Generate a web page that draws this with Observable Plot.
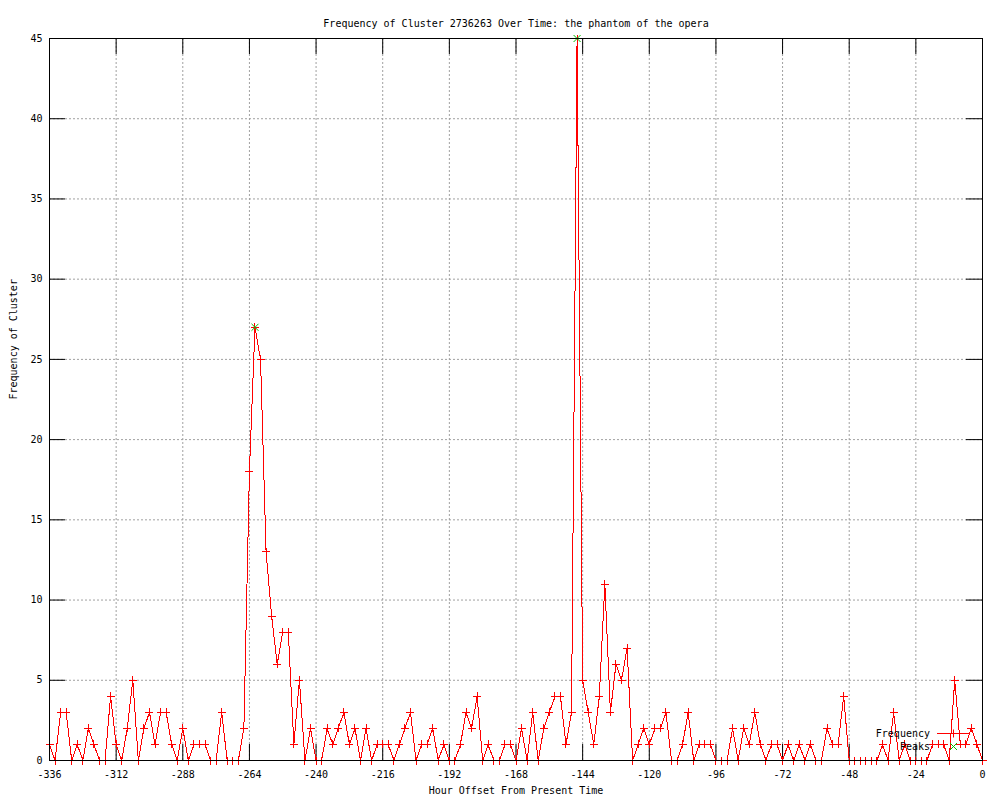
<!DOCTYPE html>
<html><head><meta charset="utf-8">
<script src="https://cdn.jsdelivr.net/npm/d3@7"></script>
<script src="https://cdn.jsdelivr.net/npm/@observablehq/plot@0.6"></script>
<style>
body{margin:0;background:#fff;}
#chart{position:relative;width:1000px;height:800px;}
</style></head><body><div id="chart"></div>
<script>
const titleText = "Frequency of Cluster 2736263 Over Time: the phantom of the opera";
const xLabel = "Hour Offset From Present Time";
const yLabel = "Frequency of Cluster";
const seriesNames = ["Frequency", "Peaks"];
const frequency = [
  1,0,3,3,0,1,0,2,1,0, 0,4,1,0,2,5,0,2,3,1, 3,3,1,0,2,0,1,1,1,0,
  0,3,0,0,0,2,18,27,25,13, 9,6,8,8,1,5,0,2,0,0, 2,1,2,3,1,2,0,2,0,1,
  1,1,0,1,2,3,0,1,1,2, 0,1,0,0,1,3,2,4,0,1, 0,0,1,1,0,2,0,3,0,2,
  3,4,4,1,3,45,5,3,1,4, 11,3,6,5,7,0,1,2,1,2, 2,3,0,0,1,3,0,1,1,1,
  0,0,0,2,0,2,1,3,1,0, 1,1,0,1,0,1,0,1,0,0, 2,1,1,4,0,0,0,0,0,0,
  1,0,3,0,1,0,0,0,0,1, 1,1,0,5,1,1,2,1,0
];
const hours = d3.range(-336, 1, 2);
const peakHours = [-262, -146];
const peakValues = [27, 45];
const xTicks = [-336,-312,-288,-264,-240,-216,-192,-168,-144,-120,-96,-72,-48,-24,0];
const yTicks = [0,5,10,15,20,25,30,35,40,45];

const data = hours.map((h, i) => ({h, v: frequency[i]}));
const peaks = peakHours.map((h, i) => ({h, v: peakValues[i]}));

const plusSymbol = {draw(ctx, size){const r = Math.sqrt(size/Math.PI); ctx.moveTo(-r,0); ctx.lineTo(r,0); ctx.moveTo(0,-r); ctx.lineTo(0,r);}};
const crossSymbol = {draw(ctx, size){const r = Math.sqrt(size/Math.PI); ctx.moveTo(-r,-r); ctx.lineTo(r,r); ctx.moveTo(-r,r); ctx.lineTo(r,-r);}};

const W = 1000, H = 800, mL = 49, mR = 18, mT = 38, mB = 40;
const tickLen = 16;
const innerW = W - mL - mR, innerH = H - mT - mB;
const grey = "#a0a0a0";
const red = "#ff0000";
const green = "#00c000";
const font = "DejaVu Sans Mono";

const chart = Plot.plot({
  width: W, height: H,
  marginLeft: mL, marginRight: mR, marginTop: mT, marginBottom: mB,
  style: {fontFamily: font, fontSize: "10px", background: "white", color: "black"},
  x: {domain: [-336, 0]},
  y: {domain: [0, 45]},
  marks: [
    Plot.ruleX(xTicks, {x: d => d, stroke: grey, strokeDasharray: "2,2"}),
    Plot.ruleY(yTicks, {y: d => d, stroke: grey, strokeDasharray: "2,2"}),
    Plot.tickX(xTicks, {x: d => d, stroke: "black", insetTop: innerH - tickLen}),
    Plot.tickX(xTicks, {x: d => d, stroke: "black", insetBottom: innerH - tickLen}),
    Plot.tickY(yTicks, {y: d => d, stroke: "black", insetRight: innerW - tickLen}),
    Plot.tickY(yTicks, {y: d => d, stroke: "black", insetLeft: innerW - tickLen}),
    Plot.line(data, {x: "h", y: "v", stroke: red, strokeWidth: 1, shapeRendering: "crispEdges"}),
    Plot.dot(data, {x: "h", y: "v", symbol: plusSymbol, r: 4, stroke: red, fill: "none", strokeWidth: 1, shapeRendering: "crispEdges"}),
    Plot.dot(peaks, {x: "h", y: "v", symbol: crossSymbol, r: 3.5, stroke: green, fill: "none", strokeWidth: 1}),
    Plot.frame({stroke: "black"}),
    Plot.axisX(xTicks, {tickSize: 0, tickPadding: 10, tickFormat: d => String(d), label: null, fill: "black"}),
    Plot.axisY(yTicks, {tickSize: 0, tickPadding: 7, tickFormat: d => String(d), label: null, fill: "black"}),
    Plot.text([titleText], {frameAnchor: "top", dy: -19, fill: "black"}),
    Plot.text([xLabel], {frameAnchor: "bottom", dy: 33, fill: "black"}),
    Plot.text([yLabel], {frameAnchor: "left", dx: -36, rotate: -90, fill: "black"})
  ]
});
const holder = document.getElementById("chart");
holder.appendChild(chart);

// legend overlay (bottom-right, inside plot area)
const lg = d3.create("svg").attr("width", W).attr("height", H)
  .style("position", "absolute").style("left", "0px").style("top", "0px")
  .style("font-family", font).style("font-size", "10px");
const rows = [{name: seriesNames[0], y: 733.5}, {name: seriesNames[1], y: 746.5}];
lg.selectAll("text").data(rows).join("text")
  .attr("x", 930).attr("y", d => d.y).attr("dy", "0.32em").attr("text-anchor", "end").attr("fill", "black")
  .text(d => d.name);
lg.append("line").attr("x1", 937).attr("x2", 970).attr("y1", rows[0].y).attr("y2", rows[0].y).attr("stroke", red).attr("stroke-width", 1);
lg.append("path").attr("d", `M949.5,${rows[0].y}H957.5M953.5,${rows[0].y-4}V${rows[0].y+4}`).attr("stroke", red).attr("stroke-width", 1).attr("fill", "none");
lg.append("path").attr("d", `M950,${rows[1].y-3.5}L957,${rows[1].y+3.5}M950,${rows[1].y+3.5}L957,${rows[1].y-3.5}`).attr("stroke", green).attr("stroke-width", 1).attr("fill", "none");
holder.appendChild(lg.node());
</script>
</body></html>
